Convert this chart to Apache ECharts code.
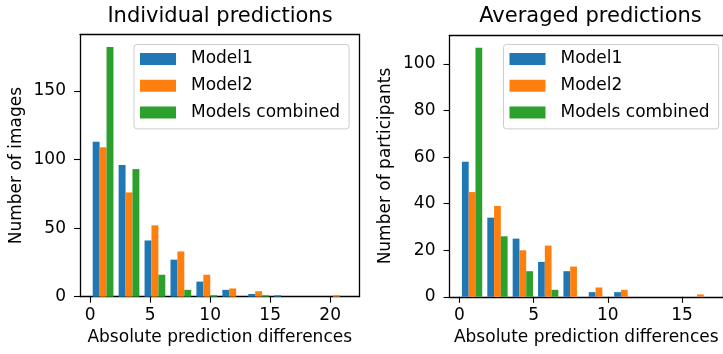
<!DOCTYPE html>
<html>
<head>
<meta charset="utf-8">
<script src="https://cdn.jsdelivr.net/npm/echarts@6/dist/echarts.min.js"></script>
<style>
html,body{margin:0;padding:0;background:#fff;}
#chart{width:723px;height:354px;}
</style>
</head>
<body>
<div id="chart"></div>
<script>
// ---- data ----
const seriesNames = ['Model1', 'Model2', 'Models combined'];
const binEdgesIndividual = [0, 2.16, 4.32, 6.48, 8.64, 10.8, 12.96, 15.12, 17.28, 19.44, 21.6];
const binEdgesAveraged = [0, 1.71, 3.42, 5.13, 6.84, 8.55, 10.26, 11.97, 13.68, 15.39, 17.1];
const individualModel1 = [113, 96, 41, 27, 11, 5, 2, 1, 0, 0];
const individualModel2 = [109, 76, 52, 33, 16, 6, 4, 0, 0, 1];
const individualCombined = [182, 93, 16, 5, 1, 0, 1, 0, 0, 0];
const averagedModel1 = [58, 34, 25, 15, 11, 2, 2, 0, 0, 0];
const averagedModel2 = [45, 39, 20, 22, 13, 4, 3, 0, 0, 1];
const averagedCombined = [107, 26, 11, 3, 0, 0, 0, 0, 0, 0];
const xTicksIndividual = [0, 5, 10, 15, 20];
const yTicksIndividual = [0, 50, 100, 150];
const xTicksAveraged = [0, 5, 10, 15];
const yTicksAveraged = [0, 20, 40, 60, 80, 100];
const titles = ['Individual predictions', 'Averaged predictions'];
const xAxisTitle = 'Absolute prediction differences';
const yAxisTitles = ['Number of images', 'Number of participants'];

// ---- styles ----
const colors = ['#1f77b4', '#ff7f0e', '#2ca02c'];
const FONT = 'DejaVu Sans';
const SPINE = { color: '#000', width: 1.3 };

function xRange(edges) {
  const w = edges[1] - edges[0];
  const lo = edges[0] + 0.1 * w;
  const hi = edges[edges.length - 1] - 0.1 * w;
  const d = hi - lo;
  return [lo - 0.05 * d, hi + 0.05 * d];
}
function yMax(lists) {
  let m = 0;
  lists.forEach(l => l.forEach(v => { if (v > m) m = v; }));
  return m * 1.05;
}

function makeSeries(edges, counts, k, gi) {
  const data = counts.map((c, i) => [edges[i], edges[i + 1], c]);
  return {
    type: 'custom',
    name: seriesNames[k],
    xAxisIndex: gi,
    yAxisIndex: gi,
    itemStyle: { color: colors[k] },
    encode: { x: [0, 1], y: 2 },
    data: data,
    renderItem: function (params, api) {
      const lo = api.value(0), hi = api.value(1), v = api.value(2);
      if (!v) return null;
      const w = hi - lo;
      const bw = w * 0.8 / 3;
      const x0 = lo + 0.1 * w + k * bw;
      const p0 = api.coord([x0, v]);
      const p1 = api.coord([x0 + bw, 0]);
      return {
        type: 'rect',
        shape: { x: p0[0], y: p0[1], width: p1[0] - p0[0], height: p1[1] - p0[1] },
        style: { fill: colors[k] }
      };
    }
  };
}

function makeXAxis(gi, edges, ticks) {
  const r = xRange(edges);
  return {
    type: 'value', gridIndex: gi, min: r[0], max: r[1], position: 'bottom',
    splitLine: { show: false },
    axisLine: { onZero: false, lineStyle: SPINE },
    axisTick: { length: 6, customValues: ticks, lineStyle: { color: '#000', width: 1.1 } },
    axisLabel: { customValues: ticks, margin: 10, fontSize: 17, fontFamily: FONT, color: '#000' },
    name: xAxisTitle, nameLocation: 'middle', nameGap: 31,
    nameTextStyle: { fontSize: 17, fontFamily: FONT, color: '#000' }
  };
}
function makeTopFrame(gi, edges) {
  const r = xRange(edges);
  return {
    type: 'value', gridIndex: gi, min: r[0], max: r[1], position: 'top',
    splitLine: { show: false }, axisTick: { show: false }, axisLabel: { show: false },
    axisLine: { show: true, onZero: false, lineStyle: SPINE }
  };
}
function makeYAxis(gi, lists, ticks, name) {
  return {
    type: 'value', gridIndex: gi, min: 0, max: yMax(lists), position: 'left',
    splitLine: { show: false },
    axisLine: { show: true, onZero: false, lineStyle: SPINE },
    axisTick: { show: true, length: 6, customValues: ticks, lineStyle: { color: '#000', width: 1.1 } },
    axisLabel: { customValues: ticks, margin: 14, fontSize: 17, fontFamily: FONT, color: '#000' },
    name: name, nameLocation: 'middle', nameGap: 55,
    nameTextStyle: { fontSize: 17, fontFamily: FONT, color: '#000' }
  };
}
function makeRightFrame(gi, lists) {
  return {
    type: 'value', gridIndex: gi, min: 0, max: yMax(lists), position: 'right',
    splitLine: { show: false }, axisTick: { show: false }, axisLabel: { show: false },
    axisLine: { show: true, onZero: false, lineStyle: SPINE }
  };
}
function makeLegend(left) {
  return {
    orient: 'vertical', left: left, top: 44.5,
    data: seriesNames, icon: 'rect', itemWidth: 36, itemHeight: 12, itemGap: 9.7,
    selectedMode: false,
    padding: [6, 9, 8, 6],
    backgroundColor: 'rgba(255,255,255,0.8)', borderColor: '#cccccc', borderWidth: 1, borderRadius: 3,
    textStyle: { fontSize: 17, fontFamily: FONT, color: '#000', padding: [0, 0, 0, 10] }
  };
}

const indLists = [individualModel1, individualModel2, individualCombined];
const avgLists = [averagedModel1, averagedModel2, averagedCombined];

const chart = echarts.init(document.getElementById('chart'), null, { renderer: 'canvas' });
chart.setOption({
  animation: false,
  backgroundColor: '#fff',
  title: [
    { text: titles[0], left: 220, textAlign: 'center', top: 6, padding: 0,
      textStyle: { fontSize: 21, fontWeight: 'normal', fontFamily: FONT, color: '#000' } },
    { text: titles[1], left: 590.5, textAlign: 'center', top: 6, padding: 0,
      textStyle: { fontSize: 21, fontWeight: 'normal', fontFamily: FONT, color: '#000' } }
  ],
  legend: [makeLegend(134), makeLegend(503.5)],
  grid: [
    { left: 80, top: 34.5, width: 279.5, height: 262.2 },
    { left: 449.5, top: 35.3, width: 282, height: 261.5 }
  ],
  xAxis: [
    makeXAxis(0, binEdgesIndividual, xTicksIndividual),
    makeXAxis(1, binEdgesAveraged, xTicksAveraged),
    makeTopFrame(0, binEdgesIndividual),
    makeTopFrame(1, binEdgesAveraged)
  ],
  yAxis: [
    makeYAxis(0, indLists, yTicksIndividual, yAxisTitles[0]),
    makeYAxis(1, avgLists, yTicksAveraged, yAxisTitles[1]),
    makeRightFrame(0, indLists),
    makeRightFrame(1, avgLists)
  ],
  series: [
    makeSeries(binEdgesIndividual, individualModel1, 0, 0),
    makeSeries(binEdgesIndividual, individualModel2, 1, 0),
    makeSeries(binEdgesIndividual, individualCombined, 2, 0),
    makeSeries(binEdgesAveraged, averagedModel1, 0, 1),
    makeSeries(binEdgesAveraged, averagedModel2, 1, 1),
    makeSeries(binEdgesAveraged, averagedCombined, 2, 1)
  ]
});
</script>
</body>
</html>
